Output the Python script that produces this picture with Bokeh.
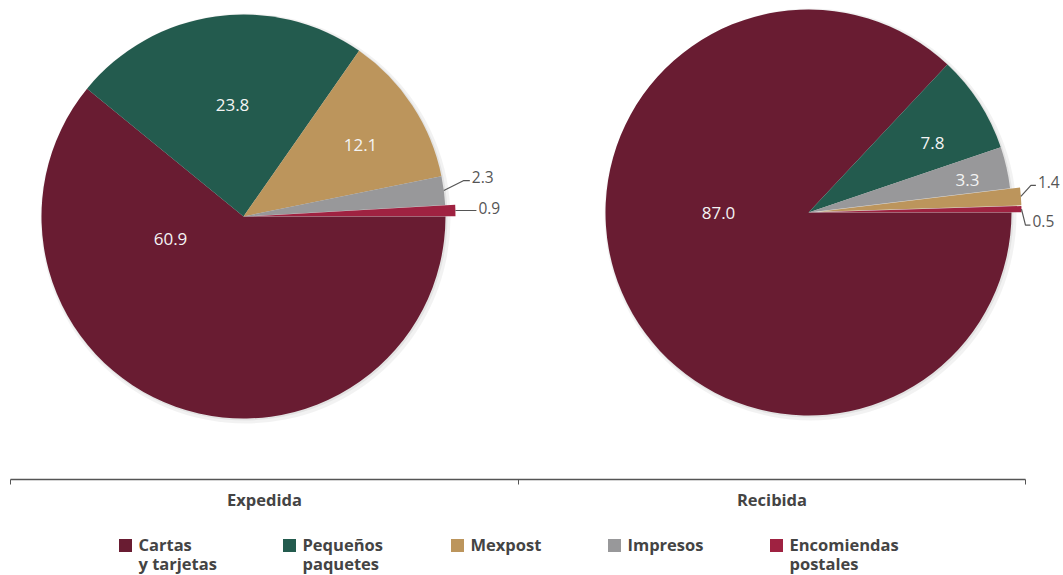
import math
from bokeh.plotting import figure
from bokeh.models import Range1d
from bokeh.core.properties import value
from bokeh.embed import file_html
from bokeh.resources import INLINE

# ---------------- data ----------------
categories = ["Cartas\ny tarjetas", "Pequeños\npaquetes", "Mexpost", "Impresos", "Encomiendas\npostales"]
colors = ["#691C32", "#235B4E", "#BC955C", "#98989A", "#9F2241"]
groups = ["Expedida", "Recibida"]
expedida = [60.9, 23.8, 12.1, 2.3, 0.9]
recibida = [87.0, 7.8, 1.4, 3.3, 0.5]

# ---------------- layout ----------------
W, H = 1063, 575
FONT = "Open Sans"
def sy(y):  # screen y -> data y
    return H - y

p = figure(width=W, height=H, output_backend="svg", toolbar_location=None,
           x_range=Range1d(0, W), y_range=Range1d(0, H),
           min_border=0, outline_line_color=None)
p.axis.visible = False
p.grid.visible = False
p.background_fill_color = "white"
p.border_fill_color = "white"

pies = [
    dict(values=expedida, cx=243, cy=216, r=202, explode={4: 10},
         inside={0: (-73, 22), 1: (-11, -112), 2: (117, -72)},
         outside={3: ((20, -10), 6, -4), 4: ((0, 0), 21, -3)}),
    dict(values=recibida, cx=808, cy=212, r=203, explode={2: 10, 4: 10},
         inside={0: (-90, 0), 1: (124, -70), 3: (159, -33)},
         outside={2: ((10, -11), 5, -3), 4: ((4, 16), 5, -4)}),
]

for pie in pies:
    vals = pie["values"]
    order = sorted(range(len(vals)), key=lambda i: -vals[i])
    total = sum(vals)
    cum = 0.0
    cx, cy, r = pie["cx"], sy(pie["cy"]), pie["r"]
    # soft shadow
    p.circle(x=[cx + 2], y=[cy - 2], radius=r + 3, fill_color="#000000",
             fill_alpha=0.05, line_color=None)
    p.circle(x=[cx + 1], y=[cy - 1], radius=r + 1, fill_color="#000000",
             fill_alpha=0.06, line_color=None)
    for i in order:
        f0 = cum / total
        cum += vals[i]
        f1 = cum / total
        a0 = -2 * math.pi * f1
        a1 = -2 * math.pi * f0
        mid = (a0 + a1) / 2
        ex = pie["explode"].get(i, 0)
        x0 = cx + ex * math.cos(mid)
        y0 = cy + ex * math.sin(mid)
        p.wedge(x=[x0], y=[y0], radius=r, start_angle=a0, end_angle=a1,
                direction="anticlock", fill_color=colors[i], line_color=None)
        lab = f"{vals[i]:.1f}"
        if i in pie["inside"]:
            dx, dy = pie["inside"][i]
            p.text(x=[cx + dx], y=[cy - dy], text=[lab], text_color="#f4f4f4",
                   text_font=value(FONT), text_font_size="17px",
                   text_align="center", text_baseline="middle")
        else:
            (edx, edy), hl, toff = pie["outside"][i]
            sx0 = x0 + r * math.cos(mid)
            sy0 = y0 + r * math.sin(mid)
            ex1, ey1 = sx0 + edx, sy0 - edy
            ex2 = ex1 + hl
            p.line(x=[sx0, ex1, ex2], y=[sy0, ey1, ey1], line_color="#555555",
                   line_width=1.2)
            p.text(x=[ex2 + 2], y=[ey1 - toff], text=[lab], text_color="#555555",
                   text_font=value(FONT), text_font_size="15.5px",
                   text_align="left", text_baseline="middle")

# ---------------- category axis ----------------
ax_y = sy(479)
ticks = [10, 518, 1025]
p.line(x=[ticks[0], ticks[-1]], y=[ax_y, ax_y], line_color="#555555", line_width=1.5)
p.segment(x0=ticks, y0=[ax_y] * 3, x1=ticks, y1=[ax_y - 5] * 3,
          line_color="#555555", line_width=1)
p.text(x=[(ticks[0] + ticks[1]) / 2, (ticks[1] + ticks[2]) / 2], y=[sy(499)] * 2,
       text=groups, text_color="#444444", text_font=value(FONT),
       text_font_size="16.5px", text_font_style="bold",
       text_align="center", text_baseline="middle")

# ---------------- legend ----------------
leg_x = [125, 289, 457, 614, 776]
leg_y = sy(545)
p.rect(x=leg_x, y=[leg_y] * 5, width=13, height=13, fill_color=colors, line_color=None)
line_gap = 19
tx, ty, tt = [], [], []
for x, cat in zip(leg_x, categories):
    for k, part in enumerate(cat.split("\n")):
        tx.append(x + 13)
        ty.append(sy(544 + k * line_gap))
        tt.append(part)
p.text(x=tx, y=ty, text=tt,
       text_color="#444444", text_font=value(FONT), text_font_size="16.5px",
       text_font_style="bold", text_align="left", text_baseline="middle")

open("out.html", "w").write(file_html(p, INLINE))
